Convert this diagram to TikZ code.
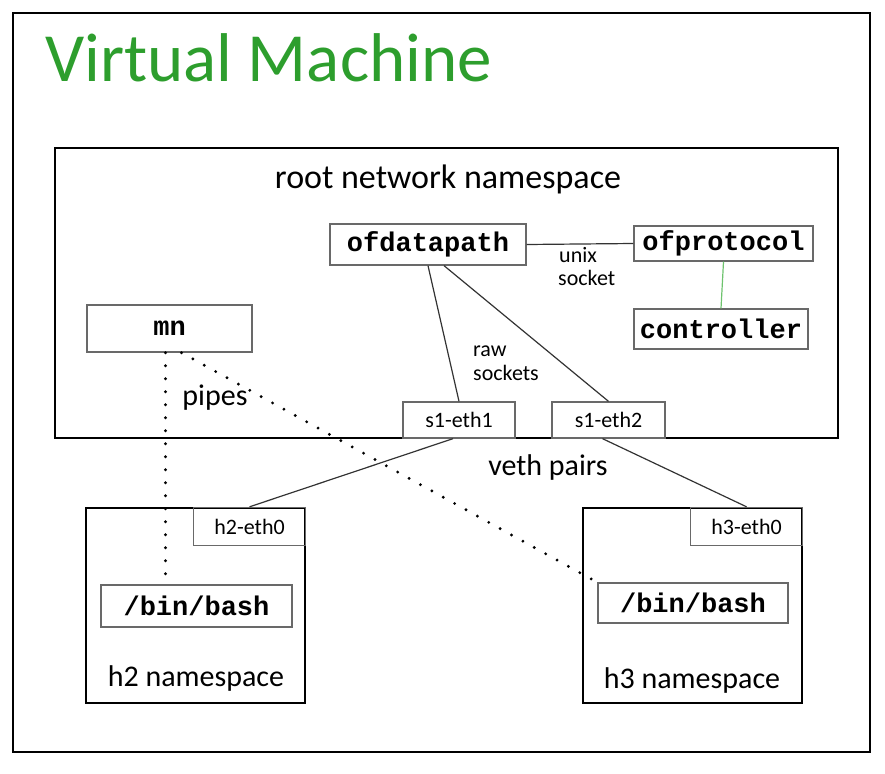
\documentclass[tikz,border=0pt]{standalone}
\usepackage{fontspec}
\setmainfont{Carlito}
\setmonofont{Liberation Mono}
\usepackage{tikz}
\usetikzlibrary{positioning, calc}

\definecolor{vmgreen}{RGB}{45,158,45}
\definecolor{linkgreen}{RGB}{110,195,110}
\definecolor{boxgray}{RGB}{105,105,105}

\tikzset{
    nsbox/.style={draw, line width=2.4pt, rectangle, inner sep=0pt},
    procbox/.style={draw=boxgray, line width=1.3pt, rectangle, inner sep=0pt,
        font=\fontsize{27}{29}\selectfont\ttfamily\bfseries},
    ifbox/.style={draw=boxgray, line width=1.3pt, rectangle, inner sep=0pt,
        font=\fontsize{22}{24}\selectfont},
    lbl/.style={inner sep=0pt, font=\fontsize{30}{32}\selectfont},
    small/.style={inner sep=0pt, anchor=base west, font=\fontsize{22}{24}\selectfont},
    link/.style={line width=1.2pt, black!80},
    pipe/.style={line width=3.2pt, line cap=round, dash pattern=on 0pt off 13pt}
}

\begin{document}
\begin{tikzpicture}[x=1pt, y=-1pt]
    \useasboundingbox (0,0) rectangle (885,773);
    % Draw the virtual machine
    \node[nsbox, line width=2pt, minimum width=857pt, minimum height=739pt] (vm) at (441.5,382.5) {};
    \node[anchor=base west, inner sep=0pt, text=vmgreen, font=\fontsize{69}{72}\selectfont] (title) at (45,82) {Virtual Machine};

    % Draw root network namespace
    \node[nsbox, line width=2.8pt, minimum width=783pt, minimum height=290pt] (root) at (446.5,293) {};
    \node[lbl, anchor=base, font=\fontsize{34}{36}\selectfont] (rootlbl) at (448,188) {root network namespace};
    \node[procbox, minimum width=196pt, minimum height=41pt] (ofdp) at (428,244.5) {ofdatapath};
    \node[procbox, minimum width=179pt, minimum height=35pt] (ofproto) at (723.5,243.5) {ofprotocol};
    \node[procbox, minimum width=174pt, minimum height=40pt] (ctrl) at (721,329) {controller};
    \node[procbox, minimum width=165pt, minimum height=47pt] (mn) at (169.5,328.5) {mn};
    \node[ifbox, minimum width=112pt, minimum height=36pt] (s1eth1) at (459,420) {s1-eth1};
    \node[ifbox, minimum width=113pt, minimum height=36pt] (s1eth2) at (608.5,420) {s1-eth2};

    % Draw the links inside the switch
    \draw[link] (ofdp.east) -- (ofproto.west);
    \draw[link, draw=linkgreen] (ofproto.south) -- (ctrl.north);
    \draw[link] (ofdp.south) -- (s1eth1.north);
    \draw[link] ([xshift=16pt]ofdp.south) -- (s1eth2.north);
    \node[small] (unix) at (559,262) {unix};
    \node[small] (socket) at (558,285) {socket};
    \node[small] (raw) at (473,356) {raw};
    \node[small] (rawsock) at (473,380) {sockets};

    % Draw the host namespaces
    \node[nsbox, minimum width=219pt, minimum height=195pt] (h2) at (195.5,605.5) {};
    \node[nsbox, minimum width=219pt, minimum height=195pt] (h3) at (692.5,605.5) {};
    \node[ifbox, minimum width=112pt, minimum height=38pt, anchor=north east] (h2eth0) at (h2.north east) {h2-eth0};
    \node[ifbox, minimum width=112pt, minimum height=38pt, anchor=north east] (h3eth0) at (h3.north east) {h3-eth0};
    \node[procbox, minimum width=191pt, minimum height=42pt] (bash2) at (196.5,606) {/bin/bash};
    \node[procbox, minimum width=190pt, minimum height=40pt] (bash3) at (693,603) {/bin/bash};
    \node[lbl, anchor=base] (h2lbl) at (196,686) {h2 namespace};
    \node[lbl, anchor=base] (h3lbl) at (692,688) {h3 namespace};

    % Draw veth pairs and pipes
    \draw[link] ([xshift=-6pt]s1eth1.south) -- (h2eth0.north);
    \draw[link] ([xshift=-6pt]s1eth2.south) -- (h3eth0.north);
    \node[lbl, anchor=base] (veth) at (548,475) {veth pairs};
    \draw[pipe] ([xshift=-4pt]mn.south) -- ([xshift=-4pt]mn.south |- bash2.north);
    \draw[pipe] ([xshift=12pt]mn.south) -- (bash3.north west);
    \node[lbl, anchor=base] (pipes) at (215,405) {pipes};
\end{tikzpicture}
\end{document}
